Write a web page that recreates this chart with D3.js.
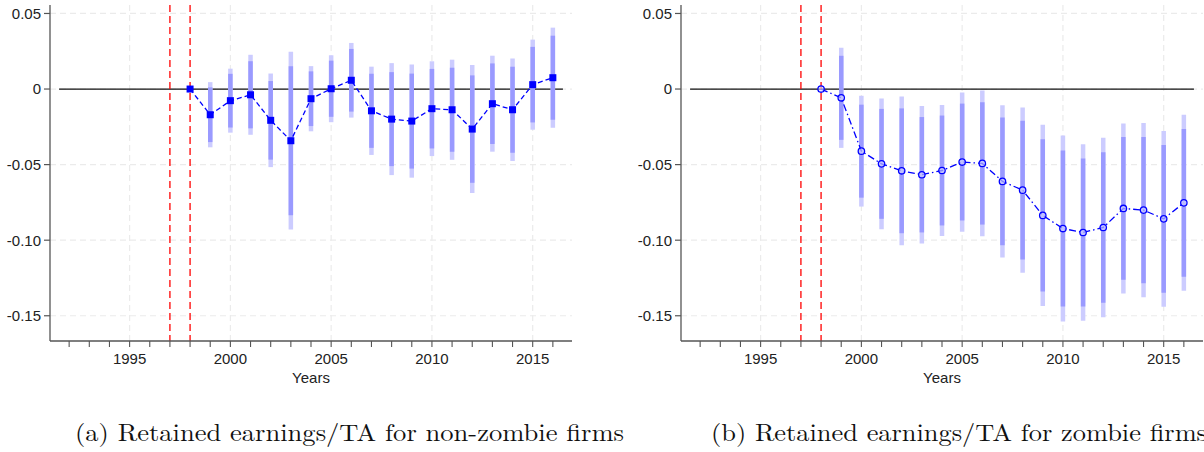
<!DOCTYPE html>
<html>
<head>
<meta charset="utf-8">
<script src="https://cdn.jsdelivr.net/npm/d3@7"></script>
<style>
  body { margin: 0; background: #fff; }
  svg { display: block; }
</style>
</head>
<body>
<div id="chart"></div>
<script>
// ---------------------------------------------------------------------------
// Data
// ---------------------------------------------------------------------------
const years = [1998, 1999, 2000, 2001, 2002, 2003, 2004, 2005, 2006, 2007,
               2008, 2009, 2010, 2011, 2012, 2013, 2014, 2015, 2016];

// (a) non-zombie firms: point estimates and standard errors
const nonZombieEst = [0, -0.0170, -0.0077, -0.0038, -0.0207, -0.0342, -0.0064, 0.0002, 0.0058, -0.0144,
                      -0.0199, -0.0212, -0.0130, -0.0137, -0.0265, -0.0097, -0.0137, 0.0029, 0.0075];
const nonZombieSe  = [0, 0.0110, 0.0108, 0.0135, 0.0158, 0.0300, 0.0110, 0.0113, 0.0126, 0.0149,
                      0.0189, 0.0191, 0.0160, 0.0169, 0.0216, 0.0162, 0.0173, 0.0152, 0.0169];

// (b) zombie firms
const zombieEst = [0, -0.0058, -0.0411, -0.0495, -0.0541, -0.0567, -0.0539, -0.0483, -0.0492, -0.0611,
                   -0.0669, -0.0836, -0.0923, -0.0949, -0.0916, -0.0790, -0.0801, -0.0859, -0.0753];
const zombieSe  = [0, 0.0169, 0.0187, 0.0221, 0.0251, 0.0232, 0.0221, 0.0235, 0.0246, 0.0257,
                   0.0279, 0.0306, 0.0314, 0.0298, 0.0303, 0.0287, 0.0294, 0.0297, 0.0297];

const yTicks = [0.05, 0, -0.05, -0.10, -0.15];
const yTickLabels = ["0.05", "0", "-0.05", "-0.10", "-0.15"];
const xMajor = [1995, 2000, 2005, 2010, 2015];
const xMinor = d3.range(1992, 2017);
const eventYears = [1997, 1998];
const captions = ["(a) Retained earnings/TA for non-zombie firms",
                  "(b) Retained earnings/TA for zombie firms"];

// ---------------------------------------------------------------------------
// Canvas
// ---------------------------------------------------------------------------
const W = 1204, H = 452;
const svg = d3.select("#chart").append("svg")
    .attr("width", W).attr("height", H);

const x = d3.scaleLinear().domain([1991.05, 2016.95]).range([50, 572]);
const y = d3.scaleLinear().domain([-0.1667, 0.0556]).range([341, 5]);

const BLUE = "#0000ff";
const GRID = "#ebebeb";
const AXIS = "#555";
const LABEL_FONT = "15px 'Liberation Sans', Arial, sans-serif";

function drawPanel(offset, est, se, marker, dash, caption, capX, capLen) {
    const g = svg.append("g").attr("transform", `translate(${offset},0)`);

    // grid
    g.append("g").selectAll("line").data(xMajor).join("line")
        .attr("x1", d => x(d)).attr("x2", d => x(d))
        .attr("y1", y.range()[1]).attr("y2", y.range()[0])
        .attr("stroke", GRID).attr("stroke-width", 1.2).attr("stroke-dasharray", "6,4");
    g.append("g").selectAll("line").data(yTicks).join("line")
        .attr("x1", x.range()[0]).attr("x2", x.range()[1])
        .attr("y1", d => y(d)).attr("y2", d => y(d))
        .attr("stroke", GRID).attr("stroke-width", 1.2).attr("stroke-dasharray", "6,4");

    // zero line
    g.append("line")
        .attr("x1", x(1991.5)).attr("x2", x(2016.5))
        .attr("y1", y(0)).attr("y2", y(0))
        .attr("stroke", "#111").attr("stroke-width", 1.3);

    // event lines
    g.append("g").selectAll("line").data(eventYears).join("line")
        .attr("x1", d => x(d)).attr("x2", d => x(d))
        .attr("y1", y.range()[1]).attr("y2", y.range()[0])
        .attr("stroke", "#ff0000").attr("stroke-width", 1.3).attr("stroke-dasharray", "7,4");

    const rows = years.map((yr, i) => ({ yr, est: est[i], se: se[i] }));
    const ci = rows.filter(d => d.se > 0);

    // 95% bands (light) then 90% bands (darker)
    g.append("g").selectAll("line").data(ci).join("line")
        .attr("x1", d => x(d.yr)).attr("x2", d => x(d.yr))
        .attr("y1", d => y(d.est + 1.96 * d.se)).attr("y2", d => y(d.est - 1.96 * d.se))
        .attr("stroke", "#ccccff").attr("stroke-width", 4.5);
    g.append("g").selectAll("line").data(ci).join("line")
        .attr("x1", d => x(d.yr)).attr("x2", d => x(d.yr))
        .attr("y1", d => y(d.est + 1.645 * d.se)).attr("y2", d => y(d.est - 1.645 * d.se))
        .attr("stroke", "#9a9aff").attr("stroke-width", 4.5);

    // connecting line
    g.append("path")
        .datum(rows)
        .attr("d", d3.line().x(d => x(d.yr)).y(d => y(d.est)))
        .attr("fill", "none").attr("stroke", BLUE).attr("stroke-width", 1.3)
        .attr("stroke-dasharray", dash);

    // markers
    if (marker === "square") {
        g.append("g").selectAll("rect").data(rows).join("rect")
            .attr("x", d => x(d.yr) - 3.5).attr("y", d => y(d.est) - 3.5)
            .attr("width", 7).attr("height", 7)
            .attr("fill", BLUE);
    } else {
        g.append("g").selectAll("circle").data(rows).join("circle")
            .attr("cx", d => x(d.yr)).attr("cy", d => y(d.est)).attr("r", 3.2)
            .attr("fill", "#dcdcff").attr("fill-opacity", 0.6)
            .attr("stroke", BLUE).attr("stroke-width", 1.3);
    }

    // y axis
    g.append("line")
        .attr("x1", x.range()[0]).attr("x2", x.range()[0])
        .attr("y1", y.range()[1]).attr("y2", y.range()[0])
        .attr("stroke", AXIS).attr("stroke-width", 1.3);
    g.append("g").selectAll("line").data(yTicks).join("line")
        .attr("x1", x.range()[0] - 6).attr("x2", x.range()[0])
        .attr("y1", d => y(d)).attr("y2", d => y(d))
        .attr("stroke", AXIS).attr("stroke-width", 1.2);
    g.append("g").selectAll("text").data(yTicks).join("text")
        .attr("x", x.range()[0] - 9).attr("y", d => y(d))
        .attr("dy", "0.36em").attr("text-anchor", "end")
        .style("font", LABEL_FONT).attr("fill", "#222")
        .text((d, i) => yTickLabels[i]);

    // x axis
    g.append("line")
        .attr("x1", x.range()[0]).attr("x2", x.range()[1])
        .attr("y1", y.range()[0]).attr("y2", y.range()[0])
        .attr("stroke", AXIS).attr("stroke-width", 1.3);
    g.append("g").selectAll("line").data(xMinor).join("line")
        .attr("x1", d => x(d)).attr("x2", d => x(d))
        .attr("y1", y.range()[0]).attr("y2", y.range()[0] + 6)
        .attr("stroke", AXIS).attr("stroke-width", 1.1);
    g.append("g").selectAll("text").data(xMajor).join("text")
        .attr("x", d => x(d)).attr("y", 364)
        .attr("text-anchor", "middle")
        .style("font", LABEL_FONT).attr("fill", "#222")
        .text(d => d);
    g.append("text")
        .attr("x", (x.range()[0] + x.range()[1]) / 2).attr("y", 383)
        .attr("text-anchor", "middle")
        .style("font", LABEL_FONT).attr("fill", "#222")
        .text("Years");

    // caption
    g.append("text")
        .attr("x", capX).attr("y", 441)
        .attr("textLength", capLen)
        .attr("lengthAdjust", "spacingAndGlyphs")
        .style("font", "24px 'Latin Modern Roman', 'CMU Serif', 'DejaVu Serif', serif")
        .attr("fill", "#111")
        .text(caption);
}

drawPanel(0, nonZombieEst, nonZombieSe, "square", "5,3", captions[0], 75, 549);
drawPanel(631, zombieEst, zombieSe, "circle", "7,3,1.5,3", captions[1], 80, 496);
</script>
</body>
</html>
